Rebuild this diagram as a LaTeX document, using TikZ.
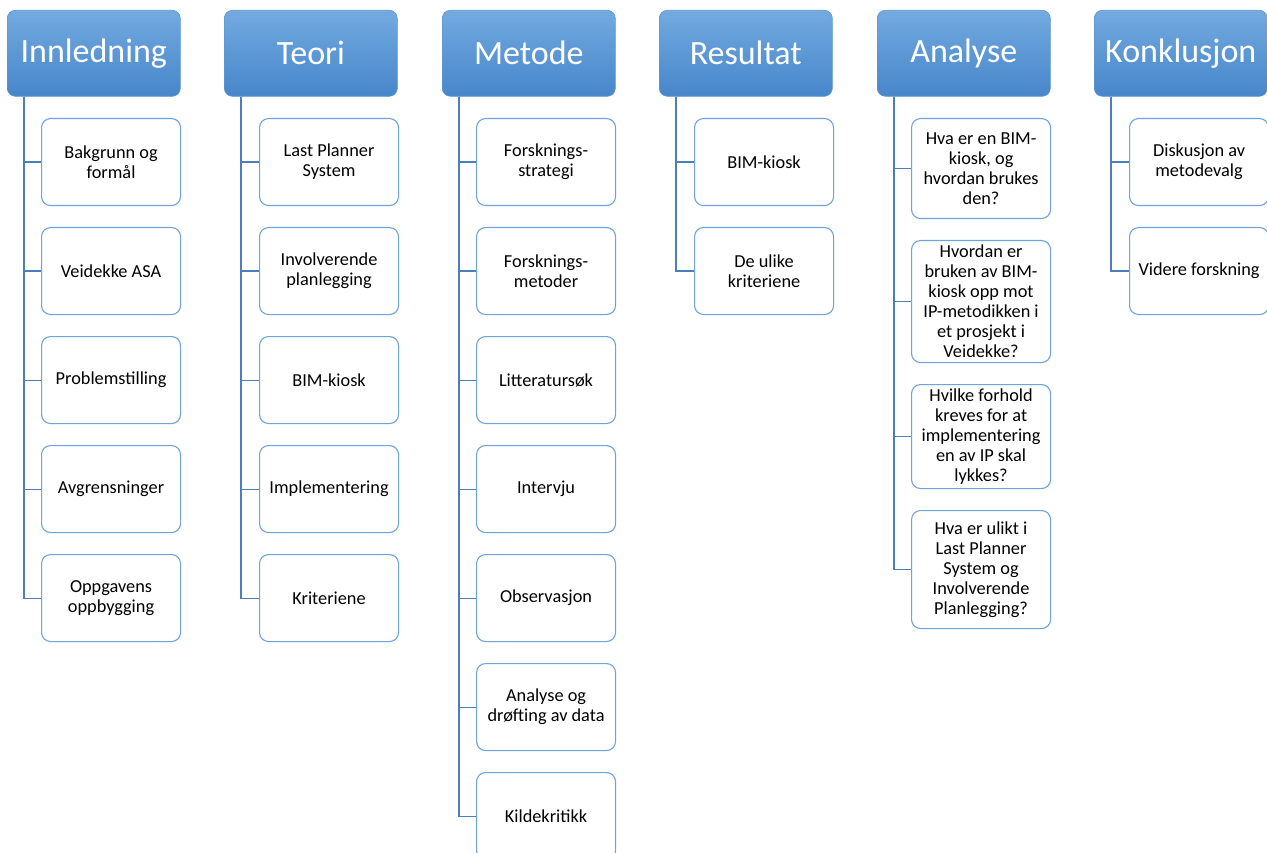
\documentclass[tikz,border=0pt]{standalone}
\usepackage{fontspec}
\setmainfont{Carlito}
\usetikzlibrary{calc}
\definecolor{hdrtop}{HTML}{73AAE0}
\definecolor{hdrbot}{HTML}{4786CA}
\definecolor{hdredge}{HTML}{5E97D2}
\definecolor{leafedge}{HTML}{6FA3DA}
\definecolor{connc}{HTML}{4C7FBA}
\tikzset{
  hdr/.style={anchor=north west, rounded corners=8pt, minimum width=173pt,
    minimum height=86pt, inner sep=0pt, top color=hdrtop, bottom color=hdrbot,
    draw=hdredge, line width=0.6pt, text=white,
    font=\fontsize{34}{40}\selectfont},
  leaf/.style={anchor=north west, rounded corners=9pt, minimum width=139pt,
    minimum height=87pt, inner sep=0pt, fill=white, draw=leafedge,
    line width=1.1pt, align=center, font=\fontsize{18.3}{20}\selectfont},
  conn/.style={draw=connc, line width=1.1pt},
}
\begin{document}
\begin{tikzpicture}[x=1pt,y=-1pt]
\useasboundingbox (0,0) rectangle (1267,853);

% column headers
\node[hdr] (h1) at (7,10)    {\raisebox{-1pt}{Innledning}};
\node[hdr] (h2) at (224,10)  {\raisebox{-1pt}{Teori}};
\node[hdr] (h3) at (442,10)  {\raisebox{-1pt}{Metode}};
\node[hdr] (h4) at (659,10)  {\raisebox{-1pt}{Resultat}};
\node[hdr] (h5) at (877,10)  {\raisebox{-1pt}{Analyse}};
\node[hdr] (h6) at (1094,10) {\raisebox{-1pt}{Konklusjon}};

% spine start points
\foreach \i in {1,...,6} {
  \coordinate (s\i) at ($(h\i.south west)+(17,0)$);
}

% Innledning
\node[leaf] (c1a) at (41,118) {Bakgrunn og\\formål};
\node[leaf] (c1b) at (41,227) {Veidekke ASA};
\node[leaf] (c1c) at (41,336) {Problemstilling};
\node[leaf] (c1d) at (41,445) {Avgrensninger};
\node[leaf] (c1e) at (41,554) {Oppgavens\\oppbygging};

% Teori
\node[leaf] (c2a) at (259,118) {Last Planner\\System};
\node[leaf] (c2b) at (259,227) {Involverende\\planlegging};
\node[leaf] (c2c) at (259,336) {BIM-kiosk};
\node[leaf] (c2d) at (259,445) {Implementering};
\node[leaf] (c2e) at (259,554) {Kriteriene};

% Metode
\node[leaf] (c3a) at (476,118) {Forsknings-\\strategi};
\node[leaf] (c3b) at (476,227) {Forsknings-\\metoder};
\node[leaf] (c3c) at (476,336) {Litteratursøk};
\node[leaf] (c3d) at (476,445) {Intervju};
\node[leaf] (c3e) at (476,554) {Observasjon};
\node[leaf] (c3f) at (476,663) {Analyse og\\drøfting av data};
\node[leaf] (c3g) at (476,772) {Kildekritikk};

% Resultat
\node[leaf] (c4a) at (694,118) {BIM-kiosk};
\node[leaf] (c4b) at (694,227) {De ulike\\kriteriene};

% Analyse
\node[leaf, minimum height=100pt] (c5a) at (911,118) {Hva er en BIM-\\kiosk, og\\hvordan brukes\\den?};
\node[leaf, minimum height=122pt] (c5b) at (911,240) {Hvordan er\\bruken av BIM-\\kiosk opp mot\\IP-metodikken i\\et prosjekt i\\Veidekke?};
\node[leaf, minimum height=104pt] (c5c) at (911,384) {Hvilke forhold\\kreves for at\\implementering\\en av IP skal\\lykkes?};
\node[leaf, minimum height=118pt] (c5d) at (911,510) {Hva er ulikt i\\Last Planner\\System og\\Involverende\\Planlegging?};

% Konklusjon
\node[leaf] (c6a) at (1129,118) {Diskusjon av\\metodevalg};
\node[leaf] (c6b) at (1129,227) {Videre forskning};

% connectors
\foreach \c in {c1a,c1b,c1c,c1d,c1e} \draw[conn] (s1) |- (\c.west);
\foreach \c in {c2a,c2b,c2c,c2d,c2e} \draw[conn] (s2) |- (\c.west);
\foreach \c in {c3a,c3b,c3c,c3d,c3e,c3f,c3g} \draw[conn] (s3) |- (\c.west);
\foreach \c in {c4a,c4b} \draw[conn] (s4) |- (\c.west);
\foreach \c in {c5a,c5b,c5c,c5d} \draw[conn] (s5) |- (\c.west);
\foreach \c in {c6a,c6b} \draw[conn] (s6) |- (\c.west);
\end{tikzpicture}
\end{document}
